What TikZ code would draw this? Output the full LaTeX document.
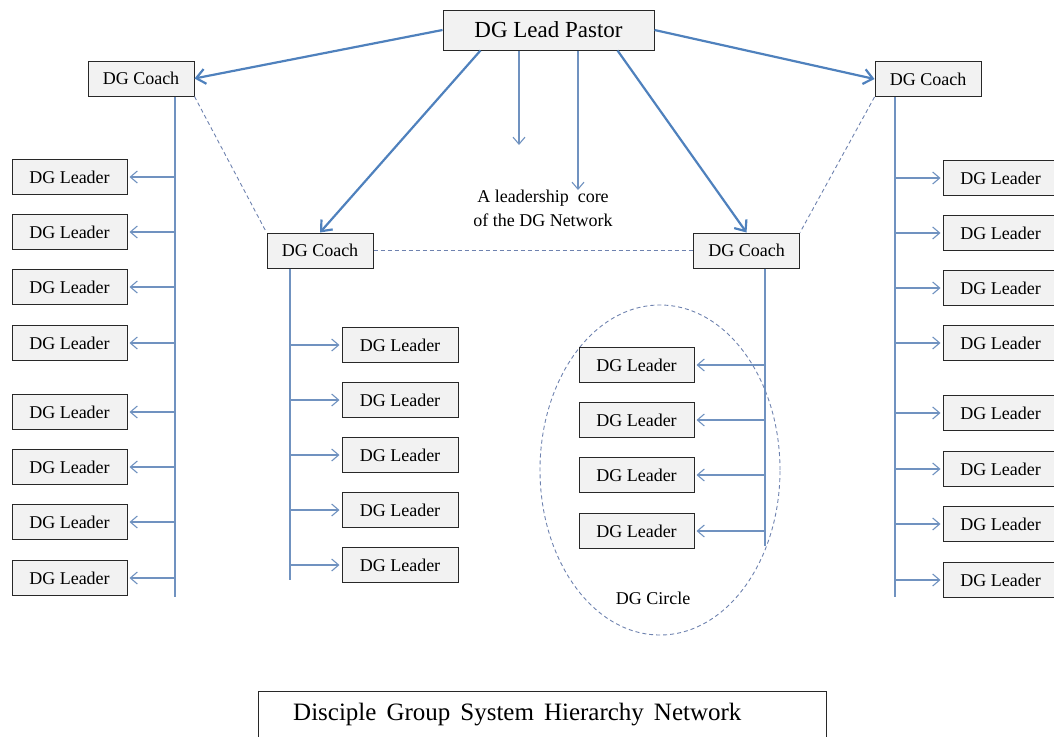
\documentclass[tikz,border=0pt]{standalone}
\usepackage{fontspec}
\setmainfont{Liberation Serif}
\usetikzlibrary{arrows.meta,shapes.geometric}
\definecolor{thickblue}{RGB}{79,129,189}
\definecolor{thinblue}{RGB}{112,146,192}
\definecolor{dashblue}{RGB}{110,130,175}
\definecolor{boxfill}{RGB}{242,242,242}
\definecolor{boxline}{RGB}{40,40,40}
\tikzset{
  box/.style={draw=boxline, fill=boxfill, line width=1pt, inner sep=0pt,
    minimum height=35pt, font=\rmfamily\fontsize{18}{20}\selectfont},
  leader/.style={box, minimum width=115pt},
  coach/.style={box, minimum width=106pt},
  spine/.style={draw=thinblue, line width=1.1pt},
  leaf/.style={draw=thinblue, line width=1.1pt, -{Straight Barb[length=7pt,width=12pt]}},
  main/.style={draw=thickblue, line width=2.2pt, -{Straight Barb[length=9pt,width=15pt]}},
  link/.style={draw=dashblue, line width=0.9pt, dash pattern=on 4pt off 3pt},
  lbl/.style={font=\rmfamily\fontsize{18}{24}\selectfont, align=center, inner sep=0pt},
}
\begin{document}
\begin{tikzpicture}[x=1pt,y=-1pt]
\useasboundingbox (0,0) rectangle (1054,736);
% top
\node[box, minimum width=211pt, minimum height=40pt, font=\rmfamily\fontsize{23}{25}\selectfont] (lp) at (548.5,30) {DG Lead Pastor};
\node[coach] (lc) at (141,78.5) {DG Coach};
\node[coach] (rc) at (928,79) {DG Coach};
\node[coach] (mlc) at (320,250.5) {DG Coach};
\node[coach] (mrc) at (746.5,250.5) {DG Coach};
% main arrows
\draw[main] (lp.west) -- (lc.east);
\draw[main] (lp.east) -- (rc.west);
\draw[main] ([xshift=38pt]lp.south west) -- (mlc.north);
\draw[main] ([xshift=-37pt]lp.south east) -- (mrc.north);
\coordinate (d1) at (519,145);
\coordinate (d2) at (578,190);
\draw[leaf] (d1 |- lp.south) -- (d1);
\draw[leaf] (d2 |- lp.south) -- (d2);
\node[lbl] (core) at (543,208) {A leadership\ \ core\\of the DG Network};
% dashed links
\draw[link] (lc.south east) -- (mlc.north west);
\draw[link] (rc.south west) -- (mrc.north east);
\draw[link] (mlc.east) -- (mrc.west);
% circle
\node[draw=dashblue, line width=0.9pt, dash pattern=on 4pt off 3pt, ellipse, minimum width=240pt, minimum height=330pt, inner sep=0pt] (circ) at (660,470) {};
\node[lbl] (circlbl) at (653,598) {DG Circle};
% left column
\coordinate (ls) at (175,96);
\coordinate (lse) at (175,597);
\draw[spine] (lc.south -| ls) -- (lse);
\foreach \y [count=\i] in {177,232,287,343,412,467,522,578}{
  \node[leader] (L\i) at (69.5,\y) {DG Leader};
  \draw[leaf] (L\i.east -| ls) -- ([xshift=2pt]L\i.east);
}
% right column
\coordinate (rs) at (895,97);
\coordinate (rse) at (895,597);
\draw[spine] (rc.south -| rs) -- (rse);
\foreach \y [count=\i] in {178,233,288,343,413,469,524,580}{
  \node[leader] (R\i) at (1000.5,\y) {DG Leader};
  \draw[leaf] (R\i.west -| rs) -- ([xshift=-2pt]R\i.west);
}
% middle-left column
\coordinate (mls) at (290,268);
\coordinate (mlse) at (290,580);
\draw[spine] (mlc.south -| mls) -- (mlse);
\foreach \y [count=\i] in {345,400,455,510,565}{
  \node[leader, minimum width=116pt] (ML\i) at (400,\y) {DG Leader};
  \draw[leaf] (ML\i.west -| mls) -- ([xshift=-2pt]ML\i.west);
}
% middle-right column
\coordinate (mrs) at (765,268);
\coordinate (mrse) at (765,546);
\draw[spine] (mrc.south -| mrs) -- (mrse);
\foreach \y [count=\i] in {365,420,475,531}{
  \node[leader] (MR\i) at (636.5,\y) {DG Leader};
  \draw[leaf] (MR\i.east -| mrs) -- ([xshift=2pt]MR\i.east);
}
% title
\node[draw=boxline, line width=1pt, fill=white, minimum width=568pt, minimum height=50pt, inner sep=0pt] (tbox) at (542,716) {};
\node[font=\rmfamily\fontsize{25}{27}\selectfont, anchor=west, inner sep=0pt] (title) at (293,715) {Disciple\hspace{10pt}Group\hspace{10pt}System\hspace{10pt}Hierarchy\hspace{10pt}Network};
\end{tikzpicture}
\end{document}
